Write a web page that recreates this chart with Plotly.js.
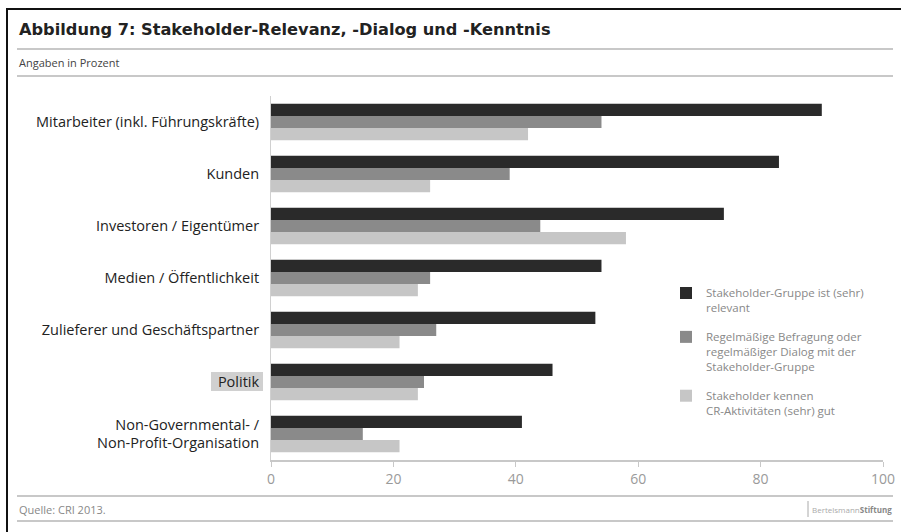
<!DOCTYPE html>
<html>
<head>
<meta charset="utf-8">
<script src="https://cdn.plot.ly/plotly-3.0.1.min.js"></script>
<style>
html,body{margin:0;padding:0;background:#fff;}
#chart{width:901px;height:532px;}
</style>
</head>
<body>
<div id="chart"></div>
<script>
const categories = [
  "Mitarbeiter (inkl. Führungskräfte)",
  "Kunden",
  "Investoren / Eigentümer",
  "Medien / Öffentlichkeit",
  "Zulieferer und Geschäftspartner",
  "Politik",
  "Non-Governmental- /<br>Non-Profit-Organisation"
];
const seriesNames = [
  "Stakeholder-Gruppe ist (sehr)<br>relevant",
  "Regelmäßige Befragung oder<br>regelmäßiger Dialog mit der<br>Stakeholder-Gruppe",
  "Stakeholder kennen<br>CR-Aktivitäten (sehr) gut"
];
const relevant = [90, 83, 74, 54, 53, 46, 41];
const dialog   = [54, 39, 44, 26, 27, 25, 15];
const kenntnis = [42, 26, 58, 24, 21, 24, 21];
const xTicks = [0, 20, 40, 60, 80, 100];
const colors = ["#2a2a2a", "#8a8a8a", "#c6c6c6"];

const W = 901, H = 532;
const L = 271, R = 883, T = 96, B = 460;
const px = x => (x - L) / (R - L);
const py = y => (B - y) / (B - T);

const values = [relevant, dialog, kenntnis];
const traces = values.map((v, i) => ({
  type: "bar",
  orientation: "h",
  name: seriesNames[i],
  legendgroup: "g" + i,
  x: v,
  y: categories,
  marker: {color: colors[i], line: {width: 0}},
  hoverinfo: "x+y"
}));

const shapes = [
  {type: "line", xref: "paper", yref: "paper", x0: px(7), x1: px(7), y0: py(9), y1: py(532), line: {color: "#111", width: 2}},
  {type: "line", xref: "paper", yref: "paper", x0: px(6), x1: px(901), y0: py(9), y1: py(9), line: {color: "#111", width: 2}},
  {type: "line", xref: "paper", yref: "paper", x0: px(17), x1: px(893), y0: py(49), y1: py(49), line: {color: "#c8c8c8", width: 2}},
  {type: "line", xref: "paper", yref: "paper", x0: px(17), x1: px(893), y0: py(76), y1: py(76), line: {color: "#c8c8c8", width: 2}},
  {type: "line", xref: "paper", yref: "paper", x0: px(17), x1: px(893), y0: py(496), y1: py(496), line: {color: "#c8c8c8", width: 2}},
  {type: "line", xref: "paper", yref: "paper", x0: px(17), x1: px(893), y0: py(521), y1: py(521), line: {color: "#c8c8c8", width: 2}},
  {type: "rect", xref: "paper", yref: "paper", x0: px(211), x1: px(263), y0: py(372), y1: py(391), fillcolor: "#d0d0d0", line: {width: 0}, layer: "below"},
  {type: "line", xref: "paper", yref: "paper", x0: px(808), x1: px(808), y0: py(501), y1: py(517), line: {color: "#aaa", width: 1}}
];

const annotations = [
  {xref: "paper", yref: "paper", x: px(17), y: py(30), xanchor: "left", yanchor: "middle", showarrow: false,
   text: "<b>Abbildung 7: Stakeholder-Relevanz, -Dialog und -Kenntnis</b>",
   font: {family: "DejaVu Sans, sans-serif", size: 16.2, color: "#222"}},
  {xref: "paper", yref: "paper", x: px(17), y: py(62), xanchor: "left", yanchor: "middle", showarrow: false,
   text: "Angaben in Prozent", font: {family: "Open Sans, sans-serif", size: 11, color: "#444"}},
  {xref: "paper", yref: "paper", x: px(17), y: py(509), xanchor: "left", yanchor: "middle", showarrow: false,
   text: "Quelle: CRI 2013.", font: {family: "Open Sans, sans-serif", size: 11, color: "#888"}},
  {xref: "paper", yref: "paper", x: px(894), y: py(509), xanchor: "right", yanchor: "middle", showarrow: false,
   text: "<span style='color:#aaa'>Bertelsmann</span><b>Stiftung</b>",
   font: {family: "Open Sans, sans-serif", size: 8, color: "#888"}}
];

const layout = {
  width: W, height: H,
  margin: {l: L, r: W - R, t: T, b: H - B, pad: 0},
  paper_bgcolor: "#fff", plot_bgcolor: "#fff",
  barmode: "group",
  bargap: 0.3,
  bargroupgap: 0,
  showlegend: true,
  legend: {
    x: px(666), y: py(279), xanchor: "left", yanchor: "top",
    traceorder: "grouped", valign: "top",
    font: {family: "Open Sans, sans-serif", size: 11.5, color: "#888"},
    tracegroupgap: 11, bgcolor: "rgba(0,0,0,0)", itemclick: false
  },
  xaxis: {
    range: [0, 100], tickvals: xTicks, ticktext: xTicks.map(String),
    showgrid: false, zeroline: false,
    showline: true, linecolor: "#c8c8c8", linewidth: 2,
    ticks: "outside", ticklen: 5, tickcolor: "#c8c8c8", tickwidth: 1,
    tickfont: {family: "Liberation Sans Narrow, Open Sans, sans-serif", size: 14, color: "#9a9a9a"},
    fixedrange: true
  },
  yaxis: {
    autorange: "reversed",
    showgrid: false, zeroline: false,
    showline: true, linecolor: "#d0d0d0", linewidth: 1,
    ticks: "", ticklabelstandoff: 8,
    tickfont: {family: "Open Sans, sans-serif", size: 14.5, color: "#222"},
    fixedrange: true
  },
  shapes: shapes,
  annotations: annotations
};

Plotly.newPlot("chart", traces, layout, {displayModeBar: false, staticPlot: true});
</script>
</body>
</html>
